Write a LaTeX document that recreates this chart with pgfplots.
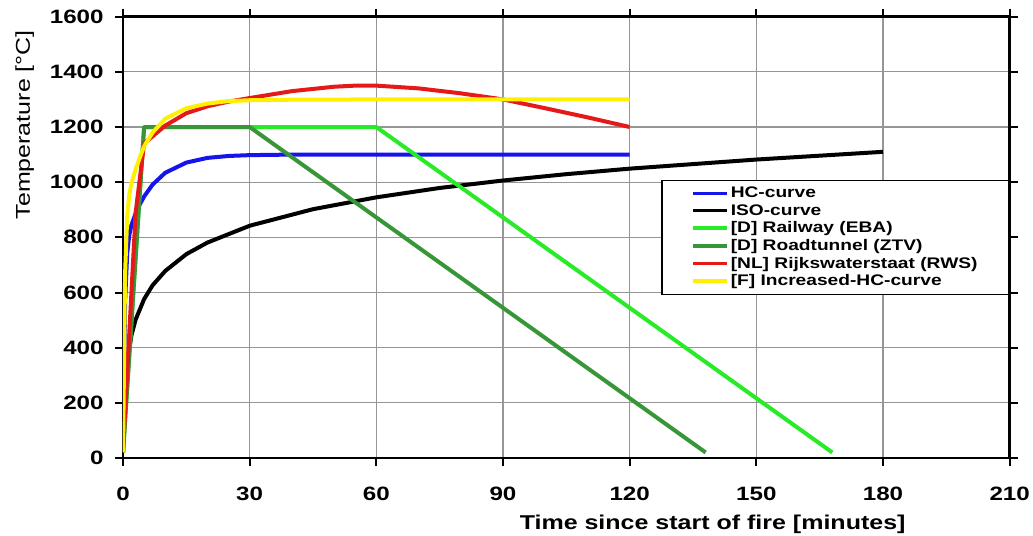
\documentclass[border=0pt]{standalone}
\usepackage{fontspec}
\setmainfont{Liberation Sans}
\newfontfamily\widesans[FakeStretch=1.25]{Liberation Sans}
\usepackage{pgfplots}
\pgfplotsset{compat=1.18}

\definecolor{hcblue}{RGB}{20,20,235}
\definecolor{ebagreen}{RGB}{40,235,40}
\definecolor{ztvgreen}{RGB}{55,150,55}
\definecolor{rwsred}{RGB}{230,25,25}
\definecolor{hcyellow}{RGB}{255,240,0}
\definecolor{gridgray}{RGB}{150,150,150}

\begin{document}
\begin{tikzpicture}
\begin{axis}[
  anchor=south west, at={(0,0)},
  scale only axis, width=665pt, height=331pt,
  xmin=0, xmax=210, ymin=0, ymax=1600,
  xtick={0,30,...,210}, ytick={0,200,...,1600},
  grid=major,
  major grid style={gridgray, line width=0.9pt},
  axis line style={black, line width=2pt},
  tick align=outside, major tick length=6pt,
  tick style={black, line width=1.5pt},
  /pgf/number format/assume math mode=true,
  /pgf/number format/1000 sep={},
  tick label style={font=\widesans\bfseries\fontsize{14.5}{16}\selectfont},
  xticklabel style={yshift=-12pt},
  yticklabel style={xshift=-5pt},
  xlabel={\bfseries Time since start of fire [minutes]},
  ylabel={Temperature [°C]},
  label style={font=\widesans\fontsize{15}{17}\selectfont},
  xlabel style={at={(ticklabel cs:0.665)}, yshift=-4pt},
  ylabel style={at={(ticklabel cs:0.755)}, yshift=5pt},
  legend cell align=left,
  legend style={at={(axis cs:210,1009)}, anchor=north east,
    draw=black, line width=1.2pt, fill=white,
    font=\widesans\bfseries\fontsize{11.5}{13}\selectfont,
    inner xsep=22pt, inner ysep=3pt, row sep=-0.6pt,
    nodes={inner xsep=1.5pt}},
  legend image code/.code={\draw[#1, line width=2.6pt] (0cm,0cm) -- (0.9cm,0cm);},
  every axis plot/.append style={line width=3pt, mark=none, line join=round},
]
\addplot[hcblue] coordinates {
(0,20) (0.5,568) (1,743) (1.5,809) (2,844) (3,887) (4,920) (5,948) (7,991)
(10,1034) (15,1071) (20,1088) (25,1095) (30,1098) (40,1100) (60,1100) (120,1100)
};
\addlegendentry{HC-curve}
\addplot[black] coordinates {
(0,20) (0.5,261) (1,349) (2,445) (3,502) (5,576) (7,626) (10,678) (15,739)
(20,781) (30,842) (45,902) (60,945) (75,979) (90,1006) (105,1029) (120,1049)
(150,1082) (180,1110)
};
\addlegendentry{ISO-curve}
\addplot[ebagreen] coordinates {
(0,20) (5,1200) (60,1200) (168,20)
};
\addlegendentry{[D] Railway (EBA)}
\addplot[ztvgreen] coordinates {
(0,20) (5,1200) (30,1200) (138,20)
};
\addlegendentry{[D] Roadtunnel (ZTV)}
\addplot[rwsred] coordinates {
(0,20) (3,890) (5,1140) (10,1205) (15,1250) (20,1275) (25,1292) (30,1305)
(40,1330) (50,1346) (55,1350) (60,1350) (70,1340) (80,1322) (90,1300)
(100,1268) (110,1235) (120,1200)
};
\addlegendentry{[NL] Rijkswaterstaat (RWS)}
\addplot[hcyellow] coordinates {
(0,20) (0.5,670) (1,877) (1.5,956) (2,996) (3,1047) (4,1090) (5,1130) (7,1180)
(10,1230) (15,1268) (20,1285) (25,1294) (30,1297) (40,1299) (60,1300) (120,1300)
};
\addlegendentry{[F] Increased-HC-curve}
\end{axis}
\pgfresetboundingbox
\path (-92.25pt,-58.5pt) rectangle (682.5pt,343.5pt);
\end{tikzpicture}
\end{document}
